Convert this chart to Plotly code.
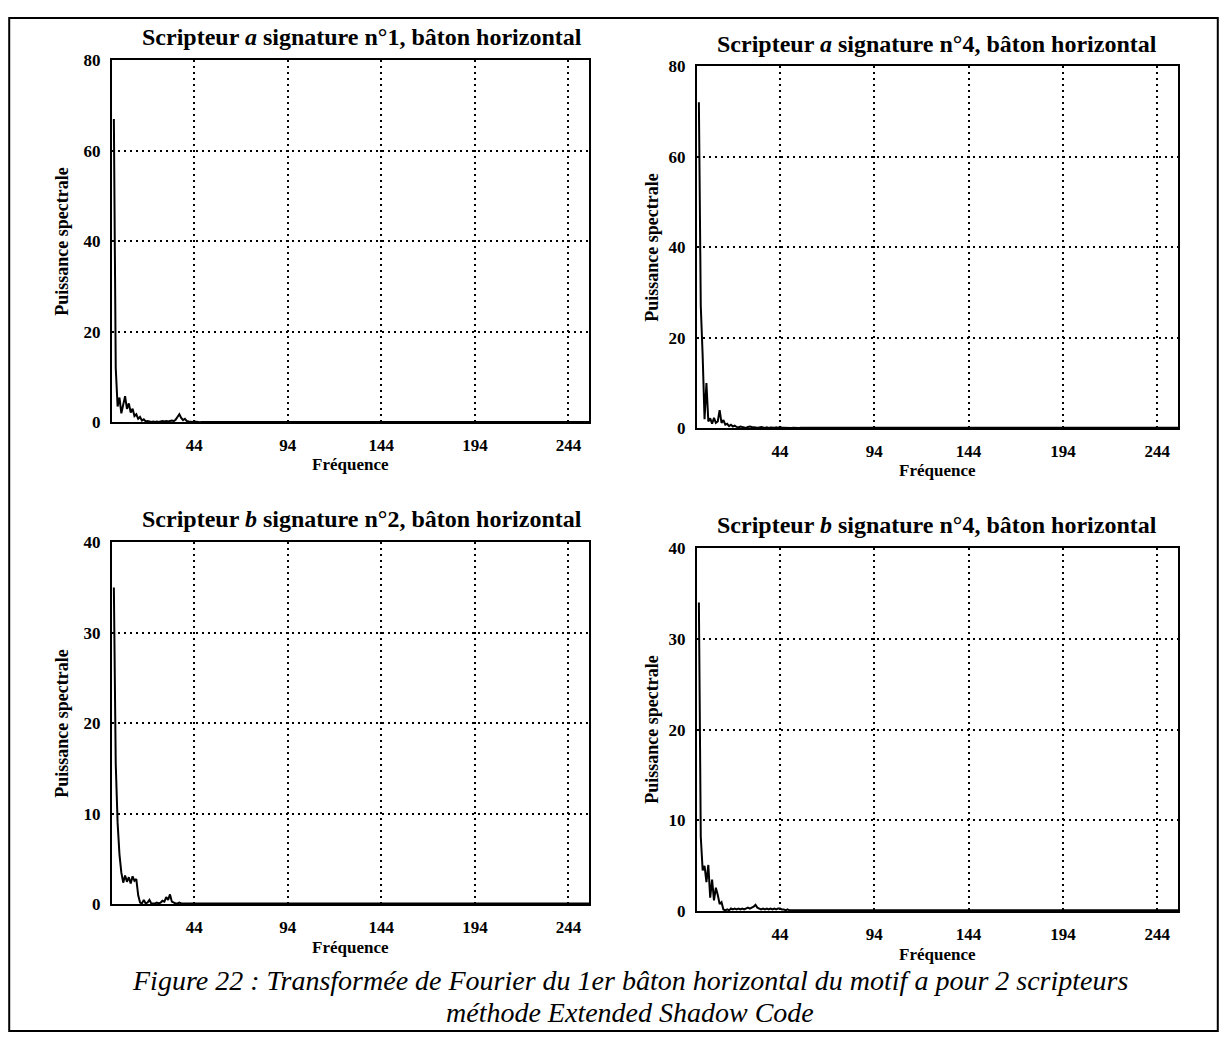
import plotly.graph_objects as go

# ---------------- data ----------------
freq_head = list(range(1, 61))
freq_tail = [64, 72, 80, 88, 96, 104, 112, 120, 128, 136, 144, 152, 160,
             168, 176, 184, 192, 200, 208, 216, 224, 232, 240, 248, 256]
freq = freq_head + freq_tail

power_a1 = [67, 12, 3.5, 5.5, 2.0, 4.0, 5.8, 3.0, 4.2, 2.2,
            3.0, 1.4, 1.8, 0.8, 1.2, 0.4, 0.7, 0.2, 0.3, 0.2,
            0.1, 0.2, 0.1, 0.2, 0.1, 0.2, 0.3, 0.2, 0.3, 0.2,
            0.3, 0.4, 0.3, 0.6, 1.2, 1.8, 1.0, 0.5, 0.8, 0.3,
            0.2, 0.1, 0.1, 0.2, 0.1, 0.1, 0.05, 0.1, 0.1, 0.05,
            0.1, 0.05, 0.1, 0.05, 0.1, 0.1, 0.05, 0.1, 0.05, 0.1] + \
           [0.1, 0.05, 0.1, 0.05, 0.1, 0.05, 0.1, 0.05, 0.1, 0.05, 0.1, 0.05, 0.1,
            0.05, 0.1, 0.05, 0.1, 0.05, 0.1, 0.05, 0.1, 0.05, 0.1, 0.05, 0.1]

power_a4 = [72, 27, 16, 2.0, 10, 1.5, 2.2, 1.0, 2.3, 1.2,
            1.5, 4.0, 1.2, 1.8, 0.8, 1.0, 0.5, 0.8, 0.4, 0.6,
            0.3, 0.2, 0.4, 0.3, 0.2, 0.1, 0.3, 0.4, 0.3, 0.2,
            0.2, 0.1, 0.2, 0.3, 0.2, 0.1, 0.2, 0.1, 0.2, 0.1,
            0.1, 0.2, 0.1, 0.3, 0.1, 0.1, 0.05, 0.1, 0.1, 0.05,
            0.1, 0.05, 0.1, 0.05, 0.1, 0.1, 0.05, 0.1, 0.05, 0.1] + \
           [0.1, 0.05, 0.1, 0.05, 0.1, 0.05, 0.1, 0.05, 0.1, 0.05, 0.2, 0.05, 0.1,
            0.05, 0.1, 0.05, 0.1, 0.05, 0.1, 0.05, 0.1, 0.05, 0.1, 0.05, 0.1]

power_b2 = [35, 15.5, 9.0, 5.5, 3.5, 2.4, 3.2, 2.5, 3.0, 2.3,
            3.1, 2.6, 2.8, 1.0, 0.2, 0.1, 0.5, 0.1, 0.2, 0.5,
            0.1, 0.1, 0.1, 0.2, 0.1, 0.2, 0.4, 0.3, 0.8, 0.5,
            1.1, 0.3, 0.2, 0.1, 0.1, 0.2, 0.1, 0.1, 0.05, 0.1,
            0.1, 0.05, 0.1, 0.1, 0.05, 0.1, 0.05, 0.1, 0.05, 0.1,
            0.1, 0.05, 0.1, 0.05, 0.1, 0.05, 0.1, 0.05, 0.1, 0.05] + \
           [0.1, 0.05, 0.1, 0.05, 0.1, 0.05, 0.1, 0.05, 0.1, 0.05, 0.1, 0.05, 0.1,
            0.05, 0.1, 0.05, 0.1, 0.05, 0.1, 0.05, 0.1, 0.05, 0.1, 0.05, 0.1]

power_b4 = [34, 8.2, 4.5, 5.0, 3.2, 5.1, 1.5, 3.5, 1.2, 2.6,
            1.8, 0.8, 1.0, 0.2, 0.1, 0.2, 0.1, 0.3, 0.2, 0.3,
            0.2, 0.3, 0.2, 0.3, 0.2, 0.3, 0.4, 0.3, 0.4, 0.5,
            0.7, 0.4, 0.3, 0.2, 0.3, 0.2, 0.3, 0.2, 0.3, 0.2,
            0.3, 0.2, 0.3, 0.3, 0.2, 0.2, 0.1, 0.2, 0.1, 0.1,
            0.1, 0.05, 0.1, 0.05, 0.1, 0.05, 0.1, 0.05, 0.1, 0.05] + \
           [0.1, 0.05, 0.1, 0.05, 0.1, 0.05, 0.1, 0.05, 0.1, 0.05, 0.1, 0.05, 0.1,
            0.05, 0.1, 0.05, 0.1, 0.05, 0.1, 0.05, 0.1, 0.05, 0.1, 0.05, 0.1]

x_tickvals = [44, 94, 144, 194, 244]
y_ticks_top = [0, 20, 40, 60, 80]
y_ticks_bottom = [0, 10, 20, 30, 40]

titles = ["Scripteur <i>a</i> signature n°1, bâton horizontal",
          "Scripteur <i>a</i> signature n°4, bâton horizontal",
          "Scripteur <i>b</i> signature n°2, bâton horizontal",
          "Scripteur <i>b</i> signature n°4, bâton horizontal"]
x_title = "Fréquence"
y_title = "Puissance spectrale"
caption_lines = ["Figure 22 : Transformée de Fourier du 1er bâton horizontal du motif a pour 2 scripteurs",
                 "méthode Extended Shadow Code"]

# ---------------- layout (page pixels) ----------------
OFF = 8
W, H = 1227 - 2 * OFF, 1050 - 2 * OFF


def px(x):
    return (x - OFF) / W


def py(y):
    return 1 - (y - OFF) / H


# panel boxes: (left, right, top, bottom) in page pixels
boxes = [(112, 589, 52, 421), (697, 1178, 58, 427),
         (112, 589, 543, 912), (697, 1178, 549, 919)]
series = [power_a1, power_a4, power_b2, power_b4]
yranges = [[0, 80], [0, 80], [0, 40], [0, 40]]
yticks = [y_ticks_top, y_ticks_top, y_ticks_bottom, y_ticks_bottom]
title_pos = [(362, 28), (937, 35), (362, 519), (937, 525)]
ytitle_pos = [(62, 237), (652, 243), (62, 728), (652, 734)]
xtitle_pos = [(350, 464), (937, 470), (350, 956), (937, 963)]
caption_y = [990, 1022]

FONT = "Liberation Serif"
fig = go.Figure()
annotations = []
for i in range(4):
    n = "" if i == 0 else str(i + 1)
    l, r, t, b = boxes[i]
    fig.add_trace(go.Scatter(x=freq, y=series[i], mode="lines",
                             line=dict(color="black", width=2.0),
                             xaxis="x" + n, yaxis="y" + n, showlegend=False,
                             hoverinfo="skip"))
    common = dict(showline=True, mirror=True, linecolor="black", linewidth=2.2,
                  showgrid=True, gridcolor="black", griddash="2px,4px", gridwidth=1.8,
                  zeroline=False, ticks="", color="black", ticklabelstandoff=6,
                  tickfont=dict(family=FONT, size=17, color="black", weight="bold"))
    fig.update_layout(**{
        "xaxis" + n: dict(domain=[px(l), px(r)], anchor="y" + n, range=[0, 255],
                          tickvals=x_tickvals, **common),
        "yaxis" + n: dict(domain=[py(b), py(t)], anchor="x" + n, range=yranges[i],
                          tickvals=yticks[i], **common),
    })
    annotations.append(dict(text=titles[i], x=px(title_pos[i][0]), y=py(title_pos[i][1]),
                            xref="paper", yref="paper", showarrow=False,
                            xanchor="center", yanchor="middle",
                            font=dict(family=FONT, size=24, color="black", weight="bold")))
    annotations.append(dict(text=y_title, x=px(ytitle_pos[i][0]), y=py(ytitle_pos[i][1]),
                            xref="paper", yref="paper", showarrow=False, textangle=-90,
                            xanchor="center", yanchor="middle",
                            font=dict(family=FONT, size=18, color="black", weight="bold")))
    annotations.append(dict(text=x_title, x=px(xtitle_pos[i][0]), y=py(xtitle_pos[i][1]),
                            xref="paper", yref="paper", showarrow=False,
                            xanchor="center", yanchor="middle",
                            font=dict(family=FONT, size=17, color="black", weight="bold")))

for line, yy in zip(caption_lines, caption_y):
    annotations.append(dict(text="<i>" + line + "</i>", x=px(630), y=py(yy),
                            xref="paper", yref="paper", showarrow=False,
                            xanchor="center", yanchor="middle",
                            font=dict(family=FONT, size=28, color="black")))

fig.update_layout(
    width=W, height=H, margin=dict(l=0, r=0, t=0, b=0),
    paper_bgcolor="white", plot_bgcolor="white",
    annotations=annotations,
    shapes=[dict(type="rect", xref="paper", yref="paper", x0=0.001, x1=0.999,
                 y0=0.001, y1=0.999, line=dict(color="black", width=2))],
)

fig.write_html("out.html")
